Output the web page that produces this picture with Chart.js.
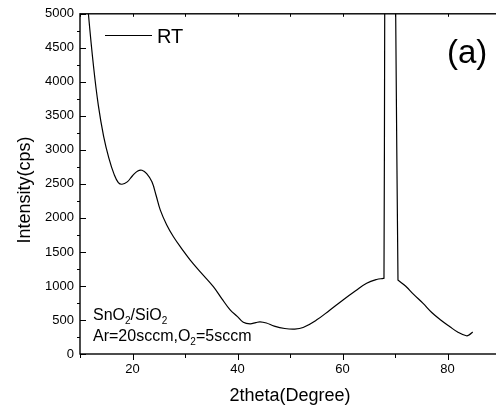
<!DOCTYPE html>
<html>
<head>
<meta charset="utf-8">
<script src="https://cdn.jsdelivr.net/npm/chart.js@4.4.0/dist/chart.umd.min.js"></script>
<style>
  html, body { margin: 0; padding: 0; background: #fff; overflow: hidden; }
  #wrap { width: 506px; height: 414px; }
</style>
</head>
<body>
<div id="wrap"><canvas id="xrdChart" width="506" height="414"></canvas></div>
<script>
// Données (2theta en degrés, intensité en cps)
const twoTheta = [11.0, 11.6, 12.6, 13.5, 14.5, 15.5, 16.5, 17.3, 18.0, 19.0, 20.0, 21.0, 21.8, 22.7,
    23.7, 24.5, 25.3, 26.5, 27.8, 29.5, 31.0, 33.0, 35.4, 37.0, 38.6, 40.0, 41.1, 42.4, 43.5, 44.3,
    45.5, 47.0, 49.0, 50.9, 52.5, 55.1, 57.5, 60.1, 62.5, 64.6, 66.5, 67.8, 67.9, 68.04, 68.17,
    69.68, 70.13, 70.57, 70.67, 72.0, 73.5, 75.3, 77.0, 78.7, 80.4, 82.0, 83.6, 84.2, 84.8];
const intensityRT = [5600, 5000, 4210, 3650, 3200, 2880, 2640, 2520, 2495, 2530, 2620, 2690, 2700, 2650,
    2530, 2330, 2114, 1900, 1723, 1535, 1381, 1200, 990, 815, 649, 550, 468, 444, 462, 473,
    455, 410, 375, 366, 390, 502, 640, 795, 930, 1040, 1095, 1111, 1113, 5000, 9000,
    9000, 5000, 1088, 1080, 1000, 880, 747, 610, 500, 404, 320, 268, 285, 322];

const seriesLabel = 'RT';
const xTickValues = [20, 40, 60, 80];
const yTickValues = [0, 500, 1000, 1500, 2000, 2500, 3000, 3500, 4000, 4500, 5000];

const FONT = "'Liberation Sans', Arial, sans-serif";

// Cadre, graduations et textes façon Origin
const framePlugin = {
    id: 'frame',
    afterDraw(chart) {
        const { ctx, chartArea: a, scales: { x, y } } = chart;
        ctx.save();
        ctx.strokeStyle = '#000';
        ctx.lineWidth = 1.4;
        ctx.strokeRect(a.left, a.top, a.right - a.left, a.bottom - a.top);

        ctx.lineWidth = 1;
        ctx.beginPath();
        for (let v = 10; v <= 90; v += 10) {
            const px = Math.round(x.getPixelForValue(v)) + 0.5;
            const len = xTickValues.includes(v) ? 6 : 4;
            ctx.moveTo(px, a.bottom);
            ctx.lineTo(px, a.bottom + len);
            ctx.moveTo(px, a.top);
            ctx.lineTo(px, a.top + 3);
        }
        yTickValues.forEach(v => {
            const py = Math.round(y.getPixelForValue(v)) + 0.5;
            ctx.moveTo(a.left, py);
            ctx.lineTo(a.left + 6, py);
            const pm = Math.round(y.getPixelForValue(v + 250)) + 0.5;
            if (v + 250 < 5000) {
                ctx.moveTo(a.left, pm);
                ctx.lineTo(a.left - 3, pm);
            }
        });
        ctx.stroke();

        // Légende
        ctx.lineWidth = 1.2;
        ctx.beginPath();
        ctx.moveTo(105, 35.5);
        ctx.lineTo(152, 35.5);
        ctx.stroke();
        ctx.fillStyle = '#000';
        ctx.font = '20px ' + FONT;
        ctx.textBaseline = 'alphabetic';
        ctx.textAlign = 'left';
        ctx.fillText(chart.data.datasets[0].label, 157, 43);

        // (a)
        ctx.font = '33px ' + FONT;
        ctx.fillText('(a)', 447, 63);

        // Titre de l'axe Y
        ctx.save();
        ctx.translate(25, 190);
        ctx.rotate(-Math.PI / 2);
        ctx.font = '18px ' + FONT;
        ctx.textAlign = 'center';
        ctx.textBaseline = 'middle';
        ctx.fillText('Intensity(cps)', 0, 0);
        ctx.restore();

        // Annotation avec indices
        const drawRich = (parts, x0, yb) => {
            let cx = x0;
            parts.forEach(([t, sub]) => {
                ctx.font = (sub ? '10px ' : '16px ') + FONT;
                ctx.fillText(t, cx, sub ? yb + 4 : yb);
                cx += ctx.measureText(t).width;
            });
        };
        ctx.textAlign = 'left';
        ctx.textBaseline = 'alphabetic';
        drawRich([['SnO'], ['2', true], ['/SiO'], ['2', true]], 93, 320);
        drawRich([['Ar=20sccm,O'], ['2', true], ['=5sccm']], 93, 341);
        ctx.restore();
    }
};

function initXrdChart() {
    const ctx = document.getElementById('xrdChart').getContext('2d');
    return new Chart(ctx, {
        type: 'line',
        data: {
            datasets: [{
                label: seriesLabel,
                data: twoTheta.map((t, i) => ({ x: t, y: intensityRT[i] })),
                borderColor: '#000',
                borderWidth: 1.2,
                pointRadius: 0,
                fill: false,
                tension: 0.4
            }]
        },
        options: {
            responsive: false,
            animation: false,
            layout: { padding: { top: 13, right: 6, left: 0, bottom: 0 } },
            plugins: {
                legend: { display: false },
                tooltip: { enabled: false }
            },
            scales: {
                x: {
                    type: 'linear',
                    min: 10,
                    max: 90,
                    afterBuildTicks: s => { s.ticks = xTickValues.map(v => ({ value: v })); },
                    afterFit: s => { s.height = 60; },
                    grid: { display: false, drawTicks: false },
                    border: { display: false },
                    ticks: { color: '#000', padding: 8, font: { family: FONT, size: 13 }, callback: v => String(v) },
                    title: {
                        display: true,
                        text: '2theta(Degree)',
                        color: '#000',
                        font: { family: FONT, size: 18 },
                        padding: { top: 0, bottom: 7 }
                    }
                },
                y: {
                    min: 0,
                    max: 5000,
                    afterBuildTicks: s => { s.ticks = yTickValues.map(v => ({ value: v })); },
                    afterFit: s => { s.width = 80; },
                    grid: { display: false, drawTicks: false },
                    border: { display: false },
                    ticks: { color: '#000', padding: 6, font: { family: FONT, size: 13 }, callback: v => String(v) }
                }
            }
        },
        plugins: [framePlugin]
    });
}

document.addEventListener('DOMContentLoaded', initXrdChart);
</script>
</body>
</html>
